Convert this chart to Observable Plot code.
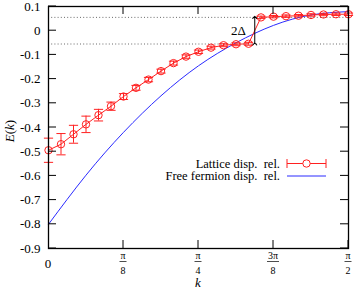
<!DOCTYPE html>
<html><head><meta charset="utf-8">
<script src="https://cdn.jsdelivr.net/npm/d3@7"></script>
<script src="https://cdn.jsdelivr.net/npm/@observablehq/plot@0.6"></script>
<style>body{margin:0;background:#fff} svg, svg text{font-family:"Liberation Serif",serif !important}</style>
</head><body><div id="chart"></div>
<script>
// Lattice dispersion relation: k = n·π/48
const latticeStep = [0,1,2,3,4,5,6,7,8,9,10,11,12,13,14,15,16,17,18,19,20,21,22,23,24];
const latticeE = [-0.494,-0.469,-0.428,-0.387,-0.349,-0.312,-0.272,-0.236,-0.202,-0.167,-0.134,-0.107,-0.087,-0.070,-0.060,-0.056,-0.054,0.055,0.058,0.060,0.062,0.065,0.067,0.068,0.068];
const latticeErr = [0.050,0.044,0.037,0.034,0.024,0.017,0.012,0.010,0.009,0.008,0.008,0.007,0.007,0.006,0.006,0.006,0.006,0.005,0.005,0.005,0.005,0.005,0.005,0.005,0.005];
// Free fermion dispersion relation: k as fraction of π/2
const freeFrac = [0,0.125,0.25,0.375,0.5,0.625,0.75,0.875,1];
const freeE = [-0.800,-0.597,-0.420,-0.269,-0.145,-0.050,0.022,0.065,0.079];
const gapDelta = 0.055;
const yTicks = [-0.9,-0.8,-0.7,-0.6,-0.5,-0.4,-0.3,-0.2,-0.1,0,0.1];
const xTickEighths = [1,2,3,4];
const xTickNum = ["π","π","3π","π"];
const xTickDen = ["8","4","8","2"];
const legendLabels = ["Lattice disp.\u00a0 rel.","Free fermion disp.\u00a0 rel."];

const RED = "#ff2020", BLUE = "#2a2aff";
const lattice = latticeStep.map((n,i) => ({k: n*Math.PI/48, E: latticeE[i], err: latticeErr[i]}));
const free = freeFrac.map((f,i) => ({k: f*Math.PI/2, E: freeE[i]}));
const kGap = (lattice[16].k + lattice[17].k)/2;

const capSymbol = {draw(ctx, size){ const w = Math.sqrt(size/Math.PI); ctx.moveTo(-w,0); ctx.lineTo(w,0); }};

function decorations(index, scales, values, dims) {
  const {x, y} = scales;
  const L = dims.marginLeft, R = dims.width - dims.marginRight, T = dims.marginTop, B = dims.height - dims.marginBottom;
  const g = d3.create("svg:g").attr("fill","none").attr("stroke","black").attr("stroke-width",1);
  const tl = 8;
  for (const t of yTicks) {
    const yy = y(t);
    g.append("line").attr("x1",L).attr("x2",L+tl).attr("y1",yy).attr("y2",yy);
    g.append("line").attr("x1",R).attr("x2",R-tl).attr("y1",yy).attr("y2",yy);
  }
  xTickEighths.forEach((n,i) => {
    const xx = x(n*Math.PI/8);
    g.append("line").attr("x1",xx).attr("x2",xx).attr("y1",B).attr("y2",B-tl);
    g.append("line").attr("x1",xx).attr("x2",xx).attr("y1",T).attr("y2",T+tl);
    const t = g.append("g").attr("stroke","none").attr("fill","black").attr("font-size",10).attr("text-anchor","middle");
    t.append("text").attr("x",xx).attr("y",B+11).text(xTickNum[i]);
    t.append("text").attr("x",xx).attr("y",B+26).text(xTickDen[i]);
    const hw = xTickNum[i].length > 1 ? 6 : 3.5;
    g.append("line").attr("x1",xx-hw).attr("x2",xx+hw).attr("y1",B+13.5).attr("y2",B+13.5).attr("stroke-width",0.7);
  });
  const tt = g.append("g").attr("stroke","none").attr("fill","black");
  tt.append("text").attr("x",x(0)).attr("y",B+19.5).attr("text-anchor","middle").attr("font-size",13).text("0");
  tt.append("text").attr("x",(L+R)/2).attr("y",B+38.5).attr("text-anchor","middle").attr("font-size",13).attr("font-style","italic").text("k");
  const yl = tt.append("text").attr("transform",`translate(14,${(T+B)/2+4}) rotate(-90)`).attr("text-anchor","middle").attr("font-size",13);
  yl.append("tspan").attr("font-style","italic").text("E");
  yl.append("tspan").text("(");
  yl.append("tspan").attr("font-style","italic").text("k");
  yl.append("tspan").text(")");
  // legend
  const lx1 = 287, lx2 = 326, ly1 = 163.5, ly2 = 176;
  tt.append("text").attr("x",lx1-7).attr("y",ly1+4).attr("text-anchor","end").attr("font-size",12.5).text(legendLabels[0]);
  tt.append("text").attr("x",lx1-7).attr("y",ly2+4).attr("text-anchor","end").attr("font-size",12.5).text(legendLabels[1]);
  const lr = g.append("g").attr("stroke",RED);
  lr.append("line").attr("x1",lx1).attr("x2",lx2).attr("y1",ly1).attr("y2",ly1);
  lr.append("line").attr("x1",lx1).attr("x2",lx1).attr("y1",ly1-4.5).attr("y2",ly1+4.5);
  lr.append("line").attr("x1",lx2).attr("x2",lx2).attr("y1",ly1-4.5).attr("y2",ly1+4.5);
  lr.append("circle").attr("cx",(lx1+lx2)/2).attr("cy",ly1).attr("r",3.7).attr("fill","white");
  g.append("line").attr("x1",lx1).attr("x2",lx2).attr("y1",ly2).attr("y2",ly2).attr("stroke",BLUE);
  return g.node();
}

const chart = Plot.plot({
  width: 354, height: 289,
  marginLeft: 48, marginRight: 6, marginTop: 6, marginBottom: 41,
  style: "font-family: 'Liberation Serif', serif; font-size: 13px; background: white; color: black; overflow: visible;",
  x: {domain: [0, Math.PI/2], axis: null},
  y: {domain: [-0.9, 0.1], axis: null},
  marks: [
    Plot.ruleY([-gapDelta, gapDelta], {stroke: "#444", strokeDasharray: "1,2.2", strokeWidth: 0.8}),
    Plot.line(free, {x: "k", y: "E", stroke: BLUE, strokeWidth: 1, curve: "natural"}),
    Plot.line(lattice, {x: "k", y: "E", stroke: RED, strokeWidth: 1}),
    Plot.ruleX(lattice, {x: "k", y1: d => d.E - d.err, y2: d => d.E + d.err, stroke: RED, strokeWidth: 1}),
    Plot.dot(lattice, {x: "k", y: d => d.E - d.err, symbol: capSymbol, r: 4.6, stroke: RED, strokeWidth: 1}),
    Plot.dot(lattice, {x: "k", y: d => d.E + d.err, symbol: capSymbol, r: 4.6, stroke: RED, strokeWidth: 1}),
    Plot.dot(lattice, {x: "k", y: "E", r: 3.7, stroke: RED, fill: "none", strokeWidth: 1}),
    Plot.link([0], {x1: kGap, x2: kGap, y1: -gapDelta, y2: gapDelta, stroke: "black", strokeWidth: 1, markerStart: "arrow", markerEnd: "arrow"}),
    Plot.text([0], {x: kGap, y: 0, text: ["2Δ"], dx: -9, textAnchor: "end", fontSize: 13, fill: "black"}),
    Plot.axisY({ticks: yTicks, tickSize: 0, tickPadding: 8, tickFormat: d => d === 0 ? "0" : d.toFixed(1), label: null, fontSize: 13}),
    Plot.frame({stroke: "black", strokeWidth: 1.3}),
    decorations
  ]
});
document.getElementById("chart").appendChild(chart);
</script>
</body></html>
